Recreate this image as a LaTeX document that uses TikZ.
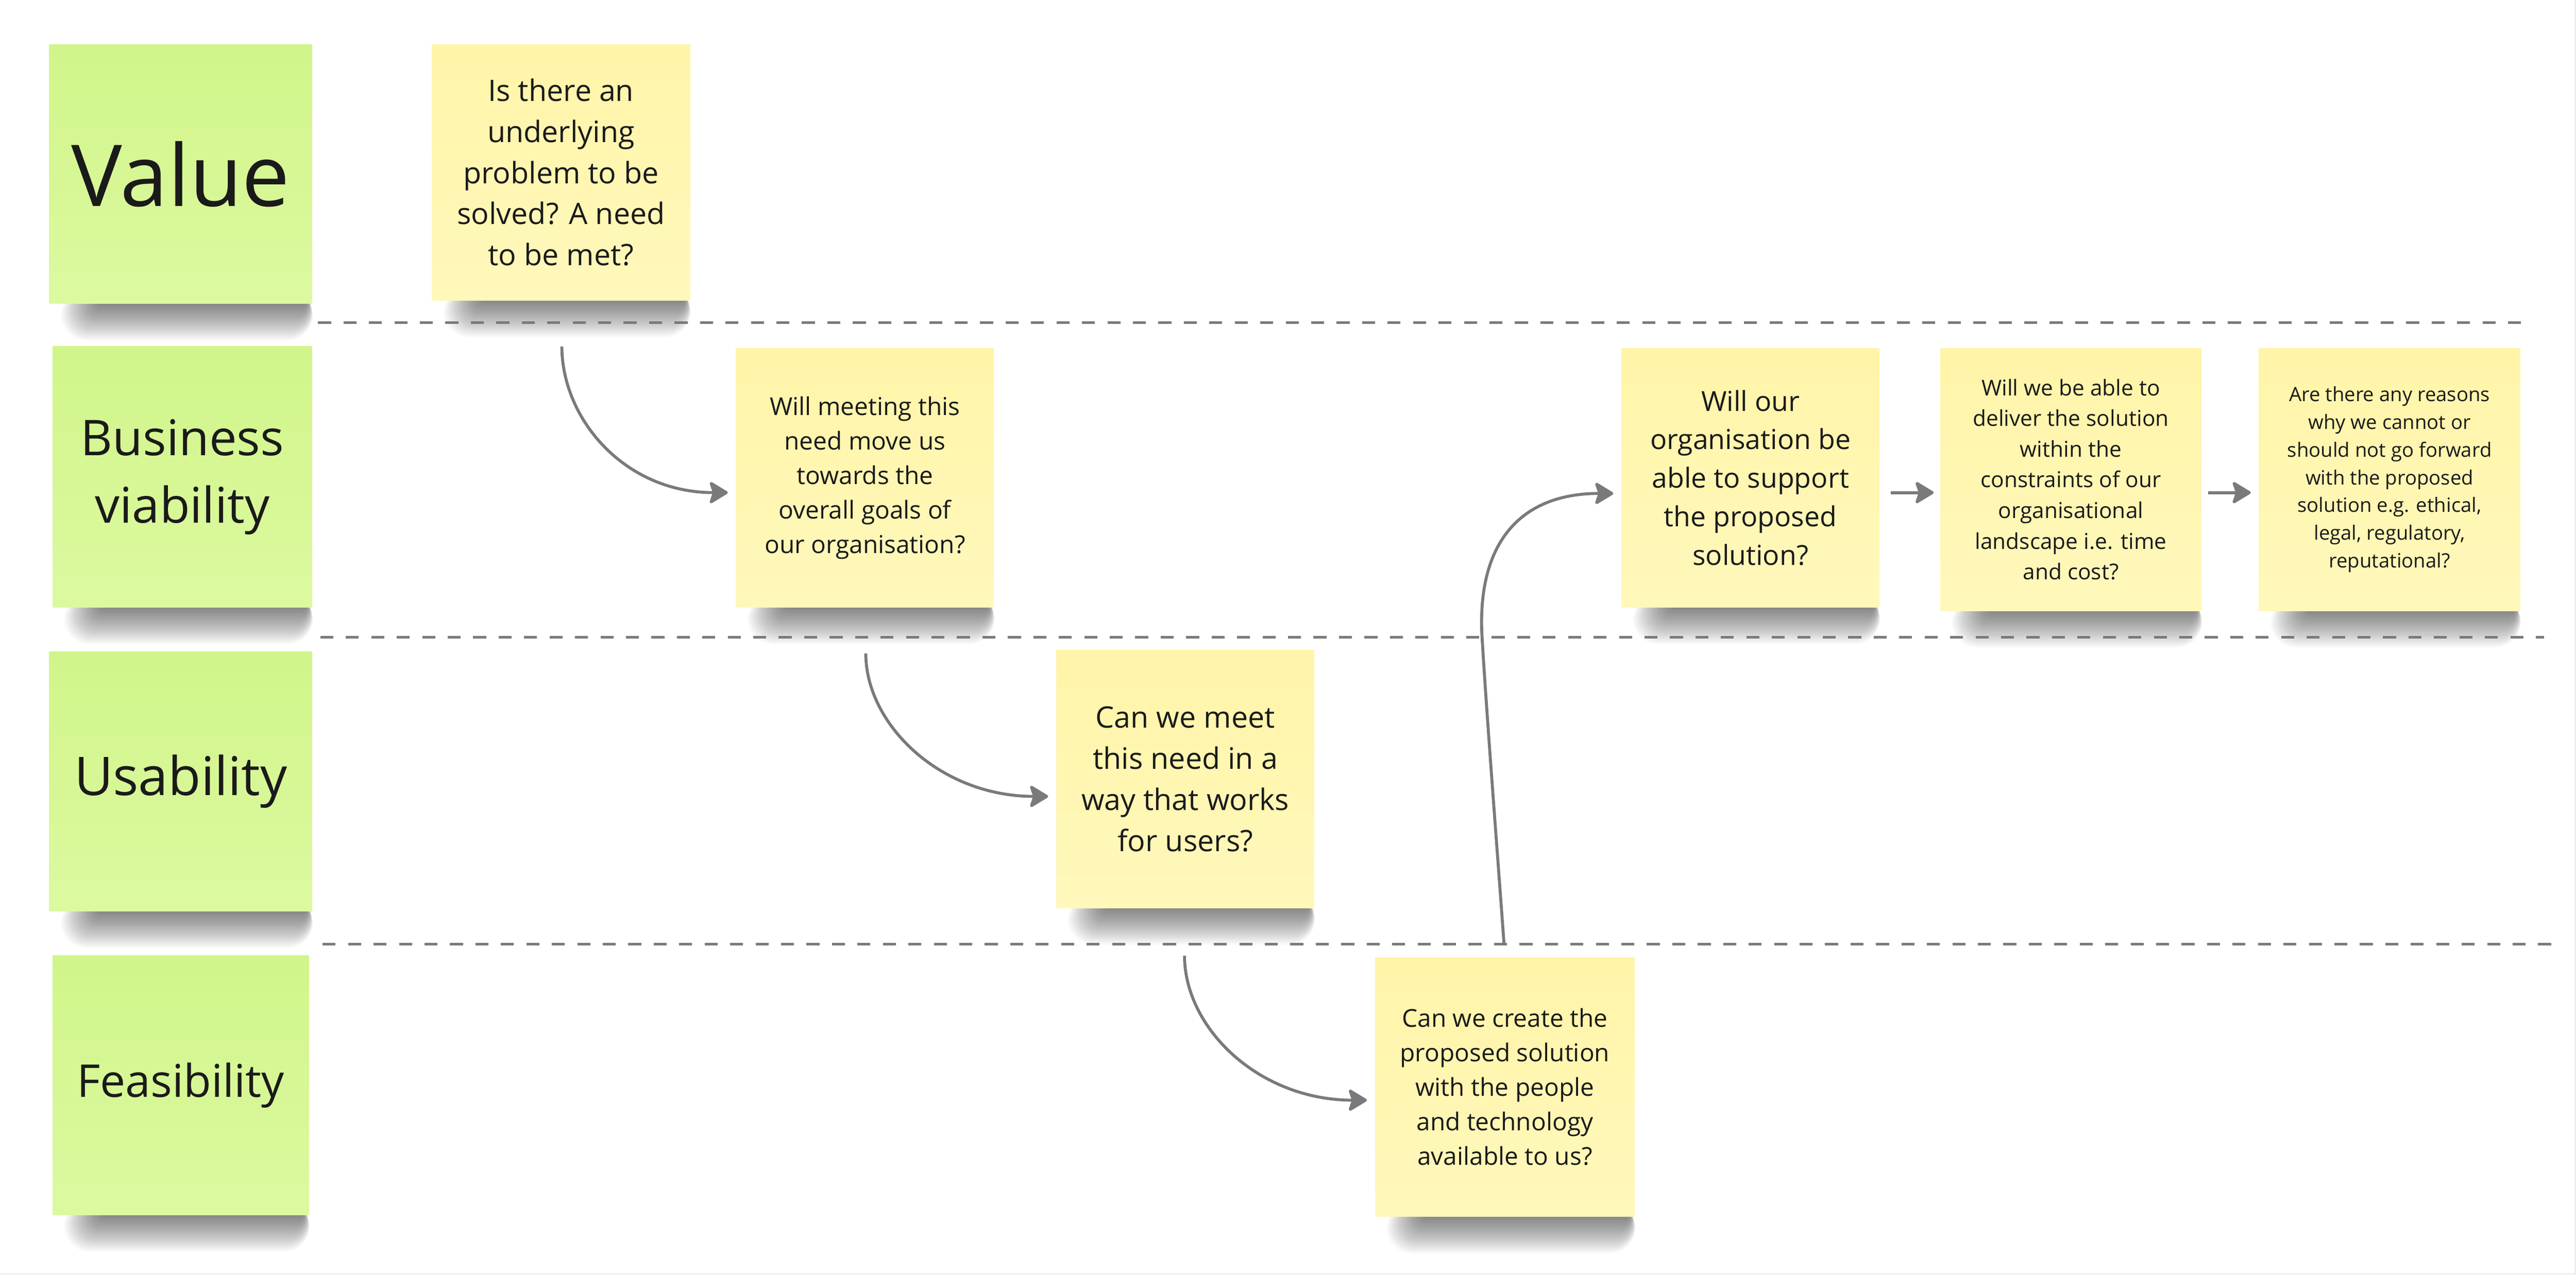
\documentclass[tikz,border=0pt]{standalone}
\usepackage{fontspec}
\setmainfont{Open Sans}
\usetikzlibrary{arrows.meta,calc}
\definecolor{gtop}{RGB}{209,245,138}
\definecolor{gbot}{RGB}{220,249,160}
\definecolor{ytop}{RGB}{255,244,168}
\definecolor{ybot}{RGB}{255,248,187}
\definecolor{ink}{RGB}{26,26,26}
\definecolor{linegray}{RGB}{122,122,122}
\definecolor{edgegray}{RGB}{232,232,232}
\tikzset{
  notebase/.style={rectangle,inner sep=0pt,outer sep=0pt,align=center,text=ink},
  greennote/.style={notebase,top color=gtop,bottom color=gbot},
  yellownote/.style={notebase,top color=ytop,bottom color=ybot},
  lane/.style={draw=linegray,line width=1.7pt,dash pattern=on 7.9pt off 7.6pt},
  flow/.style={draw=linegray,line width=1.8pt,-{Stealth[length=12.5pt,width=15pt,inset=2.5pt,round]}},
}
\newcommand\sticky[9]{%
  \foreach \k in {0,...,23}{%
    \fill[black,opacity=0.024,rounded corners={(2+0.6*\k)*1pt}] ({#3+30-1.0*\k},{#6-8}) rectangle ({#5-3+0.15*\k},{#6+0.5+0.95*\k});}%
  \node[#1,minimum width={(#5-#3)*1pt},minimum height={(#6-#4)*1pt},font={\fontsize{#7}{#8}\selectfont}] (#2) at ({(#3+#5)/2},{(#4+#6)/2}) {#9};%
}
\begin{document}
\begin{tikzpicture}[x=1pt,y=-1pt]
\fill[white] (0,0) rectangle (1568,776.3);
\useasboundingbox (0,0) rectangle (1568,776.3);
\draw[edgegray,line width=0.8pt] (1567.6,0) -- (1567.6,775.9) -- (0,775.9);

% left column: lanes
\sticky{greennote}{g1}{30}{27}{190}{185}{52}{70}{Value}
\sticky{greennote}{g2}{32}{211}{190}{370}{30}{41}{Business\\viability}
\sticky{greennote}{g3}{30}{397}{190}{555}{32.5}{44}{Usability}
\sticky{greennote}{g4}{32}{582}{188}{740}{27.5}{37}{Feasibility}

% questions
\sticky{yellownote}{n1}{263}{27}{420}{183}{18}{25}{Is there an\\underlying\\problem to be\\solved? A need\\to be met?}
\sticky{yellownote}{n2}{448}{212}{605}{370}{15}{21}{Will meeting this\\need move us\\towards the\\overall goals of\\our organisation?}
\sticky{yellownote}{n3}{643}{396}{800}{553}{18}{25}{Can we meet\\this need in a\\way that works\\for users?}
\sticky{yellownote}{n4}{837}{583}{995}{741}{15}{21}{Can we create the\\proposed solution\\with the people\\and technology\\available to us?}
\sticky{yellownote}{n5}{987}{212}{1144}{370}{16.8}{23.5}{Will our\\organisation be\\able to support\\the proposed\\solution?}
\sticky{yellownote}{n6}{1181}{212}{1340}{372}{13.3}{18.7}{Will we be able to\\deliver the solution\\within the\\constraints of our\\organisational\\landscape i.e. time\\and cost?}
\sticky{yellownote}{n7}{1375}{212}{1534}{372}{12}{16.9}{Are there any reasons\\why we cannot or\\should not go forward\\with the proposed\\solution e.g. ethical,\\legal, regulatory,\\reputational?}

% lane separators
\coordinate (l1a) at (193.6,196.4); \coordinate (l1b) at (1539,196.4);
\coordinate (l2a) at (195,388);     \coordinate (l2b) at (1548.5,388);
\coordinate (l3a) at (196.4,575);   \coordinate (l3b) at (1556,575);
\draw[lane] (l1a) -- (l1b);
\draw[lane] (l2a) -- (l2b);
\draw[lane] (l3a) -- (l3b);

% connectors
\coordinate (s1) at (342,211);
\coordinate (s2) at (527,398);
\coordinate (s3) at (721,582);
\coordinate (s4) at (915.5,575);
\coordinate (e1) at ($(n2.west)+(-5,9)$);
\coordinate (e2) at ($(n3.west)+(-5,10.5)$);
\coordinate (e3) at ($(n4.west)+(-5,8)$);
\coordinate (e4) at ($(n5.west)+(-5,9.5)$);
\draw[flow] (s1) .. controls ($(s1)+(0,44)$) and ($(e1)+(-63,0)$) .. (e1);
\draw[flow] (s2) .. controls ($(s2)+(0,43)$) and ($(e2)+(-66,0)$) .. (e2);
\draw[flow] (s3) .. controls ($(s3)+(0,44)$) and ($(e3)+(-66,0)$) .. (e3);
\draw[flow] (s4) .. controls (911,513) and (904.6,431) .. (902,386)
               .. controls (899.5,331) and (925,300.5) .. (e4);
\draw[flow] ($(n5.east)+(7,9)$) -- ($(n6.west)+(-4,8)$);
\draw[flow] ($(n6.east)+(4,8)$) -- ($(n7.west)+(-5,8)$);
\end{tikzpicture}
\end{document}
